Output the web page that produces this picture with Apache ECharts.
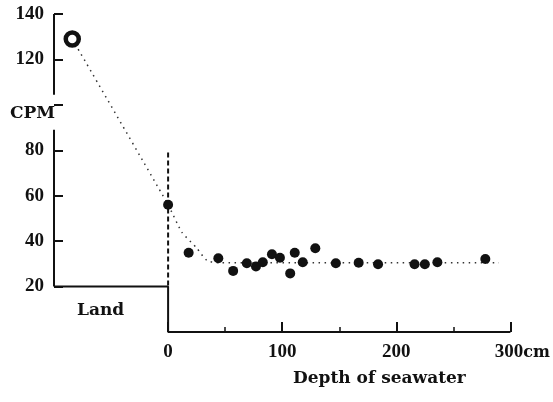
<!DOCTYPE html>
<html>
<head>
<meta charset="utf-8">
<script src="https://cdn.jsdelivr.net/npm/echarts@6/dist/echarts.min.js"></script>
<style>
  html, body { margin: 0; padding: 0; background: #fff; }
  #chart { width: 553px; height: 402px; }
</style>
</head>
<body>
<div id="chart"></div>
<script>
// Radioactivity (CPM) on land and against depth of seawater (cm)
const yTickValues = [20, 40, 60, 80, 100, 120, 140];
const yLabelValues = [20, 40, 60, 80, 120, 140];
const xMajorTicks = [0, 100, 200, 300];
const xMinorTicks = [50, 150, 250];

// Land sample (open circle)
const landPoint = [[-84, 129]];
// Shoreline sample at depth 0
const shorePoint = [[0, 56]];
// Seawater samples: depth (cm), CPM
const seaDepth = [18, 44, 57, 69, 77, 83, 91, 98, 107, 111, 118, 129, 147, 167, 184, 216, 225, 236, 278];
const seaCpm   = [34.9, 32.5, 26.9, 30.3, 28.8, 30.7, 34.2, 32.7, 25.8, 34.9, 30.7, 36.9, 30.3, 30.5, 29.8, 29.8, 29.8, 30.7, 32.1];
// Dotted trend through the samples
const trendDepth = [-84, 0, 12, 25, 34, 45, 290];
const trendCpm   = [129, 56, 44, 37, 31.5, 30.5, 30.5];
// Shoreline dashed marker
const shoreDepth = [0, 0];
const shoreCpm = [79, 20];
// Frame: broken CPM axis, land step and depth axis
const cpmAxisLower = [[-100, 20], [-100, 89]];
const cpmAxisUpper = [[-100, 104.5], [-100, 140]];
const landAndDepthAxis = [[-100, 20], [0, 20], [0, 0], [300, 0]];

const NUM_FONT = 'Liberation Serif';
const WORD_FONT = 'bold 17px "DejaVu Serif"';
const INK = '#111';

const seaData = seaDepth.map((d, i) => [d, seaCpm[i]]);
const trendData = trendDepth.map((d, i) => [d, trendCpm[i]]);
const shoreData = shoreDepth.map((d, i) => [d, shoreCpm[i]]);

function frameLine(data) {
  return {
    type: 'line', data: data, symbol: 'none', silent: true, z: 1,
    lineStyle: { color: INK, width: 2 }
  };
}

const chart = echarts.init(document.getElementById('chart'), null, { renderer: 'canvas' });
chart.setOption({
  animation: false,
  backgroundColor: '#fff',
  grid: { left: 54, right: 42, top: 14, bottom: 70 },
  xAxis: [
    {
      type: 'value', min: -100, max: 300,
      axisLine: { show: false, onZero: false }, splitLine: { show: false },
      axisTick: { show: true, inside: true, length: 10, customValues: xMajorTicks, lineStyle: { color: INK, width: 2 } },
      axisLabel: {
        customValues: xMajorTicks, margin: 11, color: INK,
        fontFamily: NUM_FONT, fontWeight: 'bold', fontSize: 19,
        formatter: v => v === 300 ? '{pad|}300{u|cm}' : String(v),
        rich: {
          pad: { width: 24 },
          u: { fontFamily: 'DejaVu Serif', fontWeight: 'bold', fontSize: 16, color: INK }
        }
      }
    },
    {
      type: 'value', min: -100, max: 300, position: 'bottom',
      axisLine: { show: false, onZero: false }, splitLine: { show: false },
      axisTick: { show: true, inside: true, length: 5, customValues: xMinorTicks, lineStyle: { color: INK, width: 1.5 } },
      axisLabel: { show: false }
    }
  ],
  yAxis: {
    type: 'value', min: 0, max: 140,
    axisLine: { show: false, onZero: false }, splitLine: { show: false },
    axisTick: { show: true, inside: true, length: 9, customValues: yTickValues, lineStyle: { color: INK, width: 2 } },
    axisLabel: {
      customValues: yLabelValues, margin: 10, color: INK,
      fontFamily: NUM_FONT, fontWeight: 'bold', fontSize: 19
    }
  },
  graphic: [
    { type: 'text', left: 10, top: 105, style: { text: 'CPM', font: WORD_FONT, fill: INK } },
    { type: 'text', left: 77, top: 302, style: { text: 'Land', font: WORD_FONT, fill: INK } },
    { type: 'text', left: 293, top: 370, style: { text: 'Depth of seawater', font: WORD_FONT, fill: INK } }
  ],
  series: [
    frameLine(cpmAxisLower),
    frameLine(cpmAxisUpper),
    frameLine(landAndDepthAxis),
    {
      type: 'line', data: shoreData, symbol: 'none', silent: true, z: 2,
      lineStyle: { color: INK, width: 2, type: [5, 3] }
    },
    {
      type: 'line', data: trendData, symbol: 'none', smooth: 0.2, silent: true, z: 2,
      lineStyle: { color: '#333', width: 1.5, type: [1.5, 4.5] }
    },
    {
      type: 'scatter', data: landPoint, symbol: 'circle', symbolSize: 13, z: 3,
      itemStyle: { color: '#fff', borderColor: INK, borderWidth: 4.5, opacity: 1 }
    },
    {
      type: 'scatter', data: shorePoint, symbolSize: 10, z: 3,
      itemStyle: { color: INK, opacity: 1 }
    },
    {
      type: 'scatter', data: seaData, symbolSize: 10, z: 3,
      itemStyle: { color: INK, opacity: 1 }
    }
  ]
});
</script>
</body>
</html>
